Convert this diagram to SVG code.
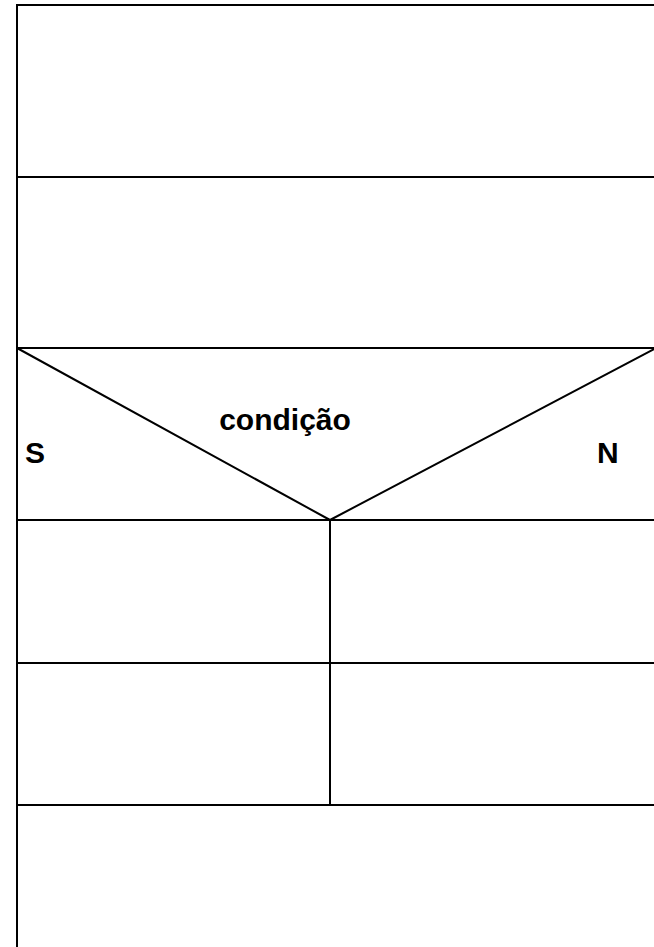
<svg xmlns="http://www.w3.org/2000/svg" width="654" height="947" viewBox="0 0 654 947">
<style>
.l{stroke:#000;stroke-width:2;fill:none}
.t{font-family:"Liberation Sans",Arial,sans-serif;font-weight:bold;fill:#000}
</style>
<rect width="654" height="947" fill="#fff"/>
<g id="connectors">
<line class="l" x1="17" y1="5" x2="17" y2="947"/>
<line class="l" x1="16" y1="5" x2="654" y2="5"/>
<line class="l" x1="17" y1="177" x2="654" y2="177"/>
<line class="l" x1="17" y1="348" x2="654" y2="348"/>
<line class="l" x1="17" y1="520" x2="654" y2="520"/>
<line class="l" x1="17" y1="663" x2="654" y2="663"/>
<line class="l" x1="17" y1="805" x2="654" y2="805"/>
<line class="l" x1="330" y1="520" x2="330" y2="805"/>
<polyline class="l" points="17,348 330,520 656,348"/>
</g>
<g id="condicao"><text class="t" x="285" y="430" font-size="30" text-anchor="middle">condição</text></g>
<g id="S"><text class="t" x="25" y="463" font-size="30">S</text></g>
<g id="N"><text class="t" x="597" y="463" font-size="30">N</text></g>
</svg>
